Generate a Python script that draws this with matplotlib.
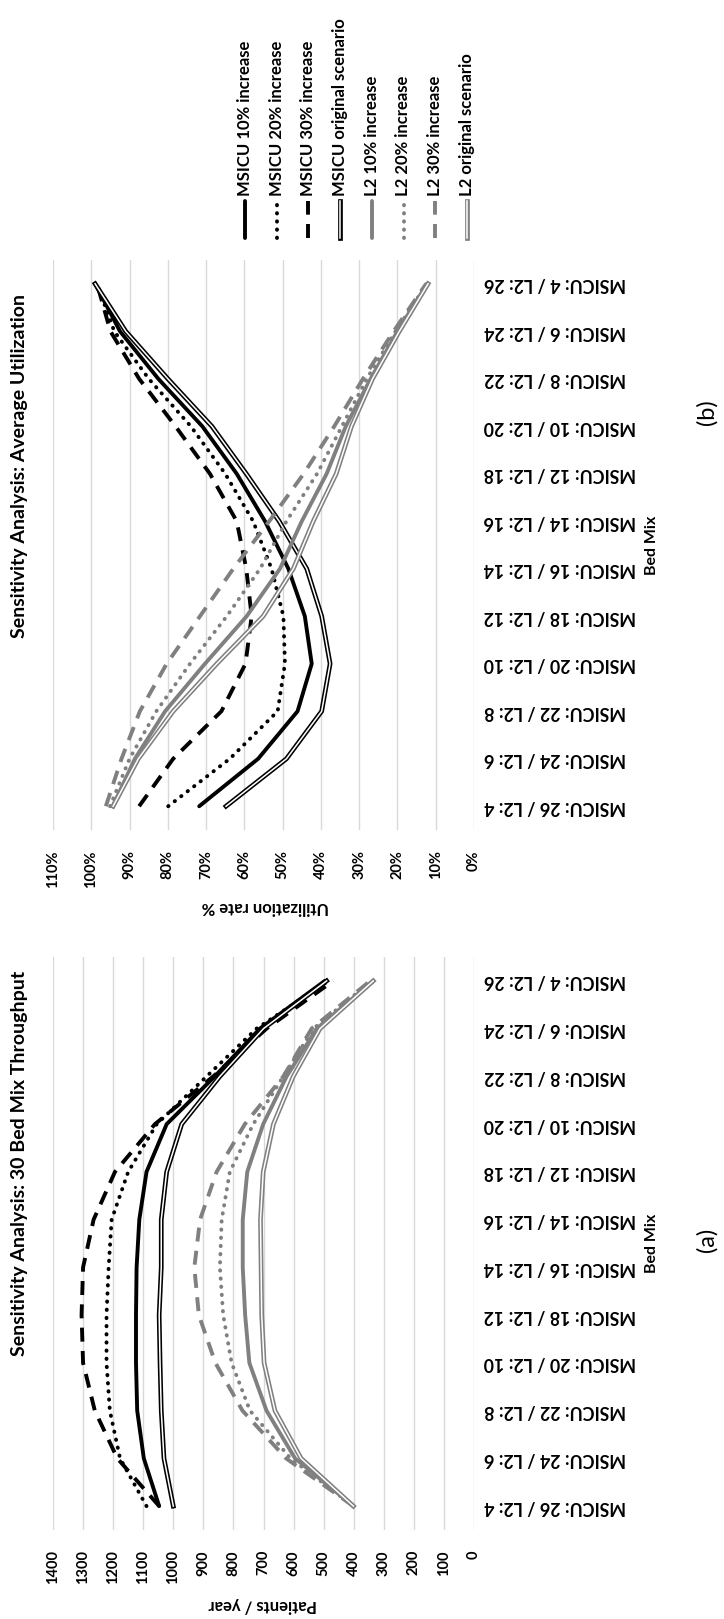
import matplotlib
matplotlib.use('Agg')
import matplotlib.pyplot as plt

plt.rcParams['font.family'] = ['Lato', 'DejaVu Sans']

# categories, bottom to top in the picture
bed_mix = ['MSICU: 26 / L2: 4', 'MSICU: 24 / L2: 6', 'MSICU: 22 / L2: 8',
           'MSICU: 20 / L2: 10', 'MSICU: 18 / L2: 12', 'MSICU: 16 / L2: 14',
           'MSICU: 14 / L2: 16', 'MSICU: 12 / L2: 18', 'MSICU: 10 / L2: 20',
           'MSICU: 8 / L2: 22', 'MSICU: 6 / L2: 24', 'MSICU: 4 / L2: 26']

series_names = ['MSICU 10% increase', 'MSICU 20% increase', 'MSICU 30% increase',
                'MSICU original scenario', 'L2 10% increase', 'L2 20% increase',
                'L2 30% increase', 'L2 original scenario']

# (a) throughput, patients / year
msicu10_a = [1047, 1098, 1120, 1124, 1124, 1122, 1113, 1089, 1022, 862, 712, 496]
msicu20_a = [1089, 1177, 1211, 1222, 1222, 1215, 1205, 1150, 1055, 889, 723, 484]
msicu30_a = [1047, 1186, 1261, 1300, 1305, 1300, 1265, 1194, 1061, 867, 690, 468]
msicu0_a = [1000, 1031, 1040, 1044, 1047, 1040, 1040, 1022, 972, 845, 700, 490]
l2_10_a = [401, 595, 690, 747, 761, 769, 769, 754, 701, 623, 523, 335]
l2_20_a = [401, 610, 745, 806, 834, 845, 839, 812, 734, 634, 534, 340]
l2_30_a = [401, 625, 770, 860, 915, 930, 911, 856, 762, 634, 540, 345]
l2_0_a = [401, 575, 662, 698, 706, 708, 710, 701, 667, 601, 512, 335]

# (b) average utilization, %
msicu10_b = [71.8, 56.4, 46.1, 42.4, 44.2, 48.5, 54.6, 62.0, 71.0, 82.5, 92.5, 99.0]
msicu20_b = [79.9, 63.8, 51.3, 49.4, 49.8, 52.9, 57.7, 65.0, 74.0, 85.0, 94.0, 98.5]
msicu30_b = [87.5, 78.6, 66.0, 59.7, 58.1, 59.5, 62.0, 69.0, 78.0, 87.5, 95.0, 98.5]
msicu0_b = [64.8, 49.0, 39.8, 37.6, 39.8, 43.7, 50.9, 59.5, 68.5, 80.0, 91.0, 99.0]
l2_10_b = [94.4, 88.6, 80.7, 70.3, 59.4, 50.7, 45.0, 38.5, 33.5, 27.0, 20.0, 12.2]
l2_20_b = [95.1, 90.0, 83.0, 74.2, 64.6, 55.9, 49.0, 41.0, 34.5, 28.0, 20.5, 12.3]
l2_30_b = [96.2, 92.1, 87.3, 80.3, 71.6, 62.9, 53.5, 44.5, 36.5, 29.0, 21.0, 12.5]
l2_0_b = [94.3, 87.7, 78.6, 67.2, 55.1, 47.2, 42.0, 36.0, 32.0, 26.5, 19.5, 12.0]

panel_a = [msicu10_a, msicu20_a, msicu30_a, msicu0_a, l2_10_a, l2_20_a, l2_30_a, l2_0_a]
panel_b = [msicu10_b, msicu20_b, msicu30_b, msicu0_b, l2_10_b, l2_20_b, l2_30_b, l2_0_b]

BLACK = '#000000'
GRAY = '#808080'
styles = [(BLACK, 'solid'), (BLACK, 'dot'), (BLACK, 'dash'), (BLACK, 'double'),
          (GRAY, 'solid'), (GRAY, 'dot'), (GRAY, 'dash'), (GRAY, 'double')]

W, H = 724, 1619
fig = plt.figure(figsize=(W / 100, H / 100), dpi=100)


def rect(x0, y0, x1, y1):
    # pixel box (top-left origin) -> figure fraction
    return [x0 / W, 1 - y1 / H, (x1 - x0) / W, (y1 - y0) / H]


def draw(ax, x, y, color, kind):
    if kind == 'solid':
        ax.plot(x, y, color=color, lw=2.8, solid_capstyle='round', solid_joinstyle='round')
    elif kind == 'dot':
        ax.plot(x, y, color=color, lw=2.8, linestyle=(0, (0.1, 2.0)),
                dash_capstyle='round')
    elif kind == 'dash':
        ax.plot(x, y, color=color, lw=2.8, linestyle=(0, (3.6, 2.4)),
                dash_capstyle='butt')
    else:
        ax.plot(x, y, color=color, lw=3.4, solid_joinstyle='round')
        ax.plot(x, y, color='white', lw=1.1, solid_joinstyle='round')


def setup(ax, vmax, step, fmt):
    cats = list(range(1, len(bed_mix) + 1))
    ax.set_xlim(vmax, 0)
    ax.set_ylim(0.5, len(bed_mix) + 0.5)
    ticks = list(range(0, vmax + 1, step))
    ax.set_xticks(ticks)
    ax.set_xticklabels([fmt(t) for t in ticks], rotation=90, fontweight='bold',
                       fontsize=10.5, va='top')
    ax.yaxis.tick_right()
    ax.set_yticks(cats)
    ax.set_yticklabels(bed_mix, rotation=180, ha='left', va='center',
                       fontweight='bold', fontsize=12.8)
    ax.tick_params(axis='x', length=0, pad=14.4)
    ax.tick_params(axis='y', length=0, pad=7.2)
    for s in ax.spines.values():
        s.set_visible(False)
    ax.grid(axis='x', color='#d9d9d9', lw=1.0)
    ax.set_axisbelow(True)
    return cats


ax_b = fig.add_axes(rect(53, 260, 474, 830))
cats = setup(ax_b, 110, 10, lambda t: f'{t}%')
for vals, (c, k) in zip(panel_b, styles):
    draw(ax_b, vals, cats, c, k)

ax_a = fig.add_axes(rect(53, 957, 474, 1530))
cats = setup(ax_a, 1400, 100, lambda t: f'{t}')
for vals, (c, k) in zip(panel_a, styles):
    draw(ax_a, vals, cats, c, k)

# overlay in pixel coordinates for free text and the legend
ov = fig.add_axes([0, 0, 1, 1])
ov.set_xlim(0, W)
ov.set_ylim(H, 0)
ov.axis('off')

ov.text(20, 466, 'Sensitivity Analysis: Average Utilization', rotation=90,
        ha='center', va='center', fontsize=14, fontweight='bold')
ov.text(20, 1163, 'Sensitivity Analysis: 30 Bed Mix Throughput', rotation=90,
        ha='center', va='center', fontsize=14, fontweight='bold')
ov.text(265, 907, 'Utilization rate %', rotation=180, ha='center', va='center',
        fontsize=12, fontweight='bold')
ov.text(263, 1605, 'Patients / year', rotation=180, ha='center', va='center',
        fontsize=12, fontweight='bold')
ov.text(652, 545, 'Bed Mix', rotation=90, ha='center', va='center',
        fontsize=11.5, fontweight='bold')
ov.text(652, 1243, 'Bed Mix', rotation=90, ha='center', va='center',
        fontsize=11.5, fontweight='bold')
ov.text(707, 412, '(b)', rotation=90, ha='center', va='center', fontsize=17)
ov.text(707, 1240, '(a)', rotation=90, ha='center', va='center', fontsize=17)

for i, (name, (c, k)) in enumerate(zip(series_names, styles)):
    x = 245 + i * 31.7
    draw(ov, [x, x], [238, 201], c, k)
    ov.text(x, 196, name, rotation=90, ha='center', va='bottom',
            fontsize=12, fontweight='bold')

fig.savefig('out.png', dpi=100)
